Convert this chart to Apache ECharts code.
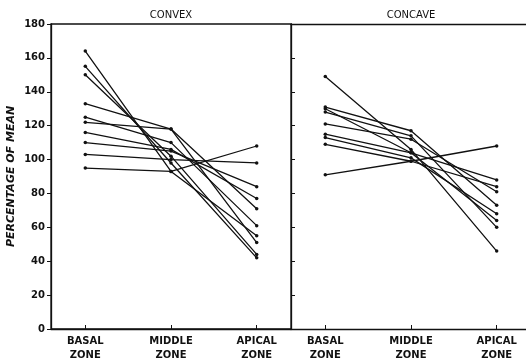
<!DOCTYPE html>
<html><head><meta charset="utf-8">
<script src="https://cdn.jsdelivr.net/npm/echarts@6/dist/echarts.min.js"></script>
<style>html,body{margin:0;padding:0;background:#fff}#c{width:526px;height:362px}</style>
</head><body><div id="c"></div>
<script>
const zones = ['BASAL\nZONE', 'MIDDLE\nZONE', 'APICAL\nZONE'];
const panelTitles = ['CONVEX', 'CONCAVE'];
const yTicks = [0, 20, 40, 60, 80, 100, 120, 140, 160, 180];

const convexBasal  = [164, 155, 150, 133, 125, 122, 116, 110, 103, 95];
const convexMiddle = [93, 98, 102, 118, 110, 118, 106, 105, 100, 93];
const convexApical = [55, 42, 44, 51, 61, 71, 77, 84, 98, 108];

const concaveBasal  = [149, 131, 130, 128, 121, 115, 113, 109, 91];
const concaveMiddle = [106, 117, 104, 114, 112, 104, 101, 99, 99];
const concaveApical = [46, 73, 64, 60, 81, 88, 68, 84, 108];

const ink = '#111';
const font = 'DejaVu Sans';

function mkSeries(b, m, a, idx) {
  return b.map((v, i) => ({
    type: 'line',
    xAxisIndex: idx, yAxisIndex: idx,
    data: [[1, v], [2, m[i]], [3, a[i]]],
    symbol: 'circle', symbolSize: 3.5,
    itemStyle: { color: ink },
    lineStyle: { color: ink, width: 1.3 },
    animation: false, silent: true
  }));
}

function mkX(idx, max) {
  return {
    type: 'value', gridIndex: idx, min: 0.6, max: max,
    splitLine: { show: false },
    axisLine: { show: true, onZero: false, lineStyle: { color: ink, width: 1.3 } },
    axisTick: { show: true, inside: true, length: 4, customValues: [1, 2, 3], lineStyle: { color: ink } },
    axisLabel: {
      customValues: [1, 2, 3],
      formatter: v => zones[Math.round(v) - 1],
      fontFamily: font, fontWeight: 'bold', fontSize: 10, lineHeight: 14,
      color: ink, margin: 5
    }
  };
}

function mkY(idx) {
  return {
    type: 'value', gridIndex: idx, min: 0, max: 180, interval: 20,
    splitLine: { show: false },
    axisLine: { show: true, onZero: false, lineStyle: { color: ink, width: 1.3 } },
    axisTick: { show: true, inside: idx === 1, length: 4, lineStyle: { color: ink } },
    axisLabel: {
      show: idx === 0,
      formatter: v => yTicks.includes(v) ? String(v) : '',
      fontFamily: font, fontWeight: 'bold', fontSize: 10, color: ink, margin: 6
    },
    name: idx === 0 ? 'PERCENTAGE OF MEAN' : '',
    nameLocation: 'middle', nameGap: 34,
    nameTextStyle: { fontFamily: font, fontStyle: 'italic', fontWeight: 'bold', fontSize: 11, color: ink }
  };
}

const topAxis = {
  type: 'value', gridIndex: 1, position: 'top', min: 0.6, max: 3.342,
  splitLine: { show: false },
  axisLine: { show: true, onZero: false, lineStyle: { color: ink, width: 1.3 } },
  axisTick: { show: false }, axisLabel: { show: false }
};

const chart = echarts.init(document.getElementById('c'), null, { renderer: 'canvas' });
chart.setOption({
  backgroundColor: '#fff',
  animation: false,
  grid: [
    { left: 51, top: 24, width: 240, bottom: 29.5, show: true, borderColor: ink, borderWidth: 1.3 },
    { left: 291, top: 24, right: 0, bottom: 29.5, show: false }
  ],
  xAxis: [mkX(0, 3.4), mkX(1, 3.342), topAxis],
  yAxis: [mkY(0), mkY(1)],
  graphic: [
    { type: 'text', x: 171, y: 15, style: { text: panelTitles[0], fontFamily: font, fontSize: 10, fill: ink, textAlign: 'center', textVerticalAlign: 'middle' } },
    { type: 'text', x: 411, y: 15, style: { text: panelTitles[1], fontFamily: font, fontSize: 10, fill: ink, textAlign: 'center', textVerticalAlign: 'middle' } }
  ],
  series: [].concat(
    mkSeries(convexBasal, convexMiddle, convexApical, 0),
    mkSeries(concaveBasal, concaveMiddle, concaveApical, 1)
  )
});
</script></body></html>
